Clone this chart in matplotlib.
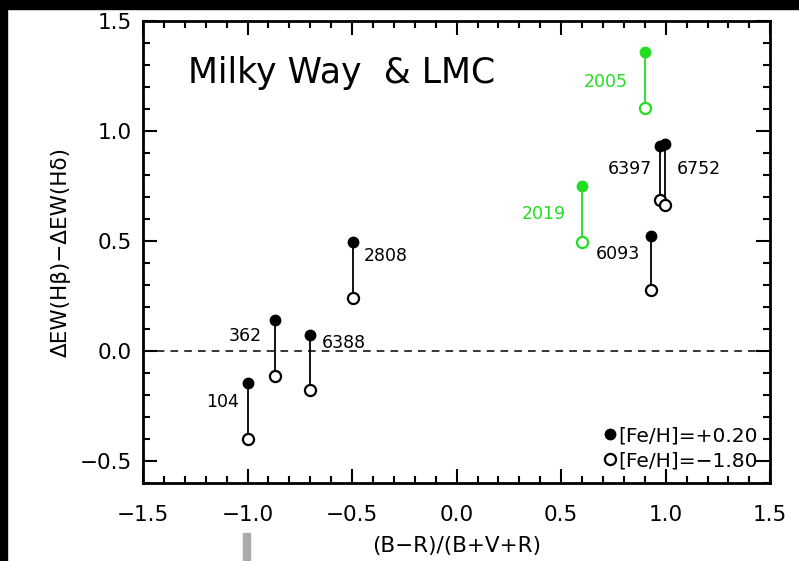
import matplotlib
matplotlib.use("Agg")
import matplotlib.pyplot as plt
from matplotlib.patches import Rectangle
from matplotlib.ticker import MultipleLocator
from matplotlib.lines import Line2D

# cluster colour index and index differences for two metallicities
names = ["104", "362", "6388", "2808", "6093", "6397", "6752", "2019", "2005"]
color_idx = [-1.00, -0.87, -0.70, -0.495, 0.93, 0.975, 0.998, 0.60, 0.90]
d_rich = [-0.145, 0.14, 0.075, 0.495, 0.525, 0.93, 0.94, 0.748, 1.357]
d_poor = [-0.40, -0.112, -0.176, 0.24, 0.276, 0.687, 0.664, 0.495, 1.103]
is_lmc = [False, False, False, False, False, False, False, True, True]
label_offsets = {  # (dx, dy) in points, ha
    "104": (-6, -14, "right"), "362": (-9, -11, "right"), "6388": (8, -6, "left"),
    "2808": (8, -10, "left"), "6093": (-8, -13, "right"), "6397": (-6, -16, "right"),
    "6752": (8, -18, "left"), "2019": (-12, -20, "right"), "2005": (-12, -21, "right"),
}

green = "#22dd22"

fig = plt.figure(figsize=(7.99, 5.61), dpi=100)
ax = fig.add_axes([0.179, 0.139, 0.785, 0.8235])

for i in range(len(names)):
    c = green if is_lmc[i] else "black"
    ax.plot([color_idx[i], color_idx[i]], [d_rich[i], d_poor[i]], color=c, lw=1.3, zorder=2)
    ax.plot(color_idx[i], d_rich[i], "o", color=c, ms=7.5, zorder=3)
    ax.plot(color_idx[i], d_poor[i], "o", mfc="white", mec=c, mew=1.6, ms=8, zorder=3)
    dx, dy, ha = label_offsets[names[i]]
    ax.annotate(names[i], (color_idx[i], d_rich[i]), xytext=(dx, dy), textcoords="offset points",
                ha=ha, va="center", fontsize=12.5, color=c)

ax.axhline(0, color="black", lw=1.1, ls=(0, (5, 4)), zorder=1)

ax.set_xlim(-1.5, 1.5)
ax.set_ylim(-0.6, 1.5)
ax.xaxis.set_major_locator(MultipleLocator(0.5))
ax.xaxis.set_minor_locator(MultipleLocator(0.1))
ax.yaxis.set_major_locator(MultipleLocator(0.5))
ax.yaxis.set_minor_locator(MultipleLocator(0.1))
ax.tick_params(which="both", direction="in", top=True, right=True, width=1.5, labelsize=15.5)
ax.tick_params(which="major", length=10)
ax.tick_params(which="minor", length=5)
ax.tick_params(axis="x", which="major", pad=16)
ax.tick_params(axis="y", which="major", pad=8)
for s in ax.spines.values():
    s.set_linewidth(2)

ax.set_xlabel("(B−R)/(B+V+R)", fontsize=15.5, labelpad=8)
ax.set_ylabel("ΔEW(Hβ)−ΔEW(Hδ)", fontsize=15.5, labelpad=6)

ax.text(0.072, 0.866, "Milky Way  & LMC", transform=ax.transAxes, fontsize=25, va="baseline")

handles = [
    Line2D([], [], ls="none", marker="o", color="black", ms=7.5),
    Line2D([], [], ls="none", marker="o", mfc="white", mec="black", mew=1.6, ms=8),
]
ax.legend(handles, ["[Fe/H]=+0.20", "[Fe/H]=−1.80"], loc="lower right",
          bbox_to_anchor=(0.993, 0.01), frameon=False, fontsize=14.5, handlelength=0.6,
          handletextpad=0.1, borderaxespad=0, labelspacing=0.3)

# frame edges of the original scan
fig.patches.append(Rectangle((0, 1 - 9 / 561), 1, 9 / 561, transform=fig.transFigure,
                             color="black", zorder=0))
fig.patches.append(Rectangle((0, 0), 7 / 799, 1, transform=fig.transFigure,
                             color="black", zorder=0))
fig.patches.append(Rectangle((243 / 799, 0), 7 / 799, 28 / 561, transform=fig.transFigure,
                             color="#aaaaaa", zorder=0))

fig.savefig("out.png", dpi=100)
